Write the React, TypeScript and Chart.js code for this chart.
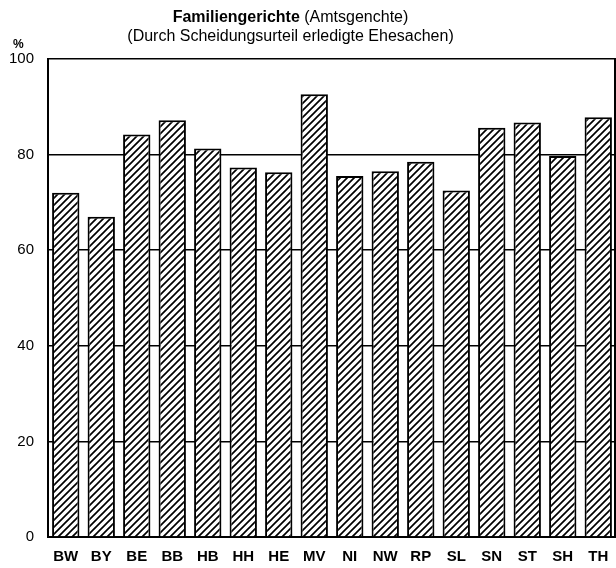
import React, { useEffect, useRef } from "react";
import { Chart, registerables } from "chart.js";

Chart.register(...registerables);

const categories = ["BW", "BY", "BE", "BB", "HB", "HH", "HE", "MV", "NI", "NW", "RP", "SL", "SN", "ST", "SH", "TH"];
const values = [72, 67, 84.2, 87.2, 81.3, 77.3, 76.3, 92.6, 75.5, 76.5, 78.5, 72.5, 85.6, 86.7, 79.7, 87.8];
const yTicks = [0, 20, 40, 60, 80, 100];
const titleBold = "Familiengerichte";
const titleRest = " (Amtsgenchte)";
const subtitle = "(Durch Scheidungsurteil erledigte Ehesachen)";
const unitLabel = "%";

const FONT = "'Liberation Sans', Arial, Helvetica, sans-serif";

function makeHatch(): CanvasPattern | string {
  const s = 7;
  const c = document.createElement("canvas");
  c.width = s;
  c.height = s;
  const g = c.getContext("2d");
  if (!g) return "#fff";
  g.fillStyle = "#fff";
  g.fillRect(0, 0, s, s);
  g.strokeStyle = "#000";
  g.lineWidth = 1.7;
  g.beginPath();
  g.moveTo(-1, s + 1);
  g.lineTo(s + 1, -1);
  g.moveTo(-1, 1);
  g.lineTo(1, -1);
  g.moveTo(s - 1, s + 1);
  g.lineTo(s + 1, s - 1);
  g.stroke();
  const p = g.createPattern(c, "repeat");
  return p || "#fff";
}

const frameRight = {
  id: "frameRight",
  beforeDatasetsDraw(chart: any) {
    const { ctx, chartArea } = chart;
    ctx.save();
    ctx.strokeStyle = "#000";
    ctx.lineWidth = 2;
    ctx.beginPath();
    ctx.moveTo(chartArea.right - 1, chartArea.top);
    ctx.lineTo(chartArea.right - 1, chartArea.bottom);
    ctx.stroke();
    ctx.restore();
  },
};

export default function App() {
  const ref = useRef<HTMLCanvasElement | null>(null);

  useEffect(() => {
    if (!ref.current) return;
    const chart = new Chart(ref.current, {
      type: "bar",
      data: {
        labels: categories,
        datasets: [
          {
            data: values,
            backgroundColor: makeHatch() as any,
            borderColor: "#000",
            borderWidth: 2,
            barPercentage: 0.77,
            categoryPercentage: 1,
          },
        ],
      },
      options: {
        responsive: false,
        animation: false,
        devicePixelRatio: 1,
        layout: { padding: { top: 59, left: 0, right: 0, bottom: 0 } },
        plugins: {
          legend: { display: false },
          tooltip: { enabled: false },
          title: { display: false },
        },
        scales: {
          x: {
            grid: { display: false },
            border: { display: true, color: "#000", width: 2 },
            ticks: {
              color: "#000",
              font: { family: FONT, size: 15, weight: "bold" },
              padding: 3,
              maxRotation: 0,
              autoSkip: false,
            },
            afterFit(scale: any) {
              scale.height = 31;
            },
          },
          y: {
            min: 0,
            max: 100,
            afterBuildTicks(scale: any) {
              scale.ticks = yTicks.map((v) => ({ value: v }));
            },
            grid: { color: "#000", lineWidth: 1.5, drawTicks: false },
            border: { display: true, color: "#000", width: 2 },
            ticks: {
              color: "#000",
              font: { family: FONT, size: 15 },
              padding: 14,
            },
            afterFit(scale: any) {
              scale.width = 48;
            },
          },
        },
      },
      plugins: [frameRight],
    });
    return () => chart.destroy();
  }, []);

  return (
    <div style={{ position: "absolute", left: 0, top: 0, width: 616, height: 568, background: "#fff", fontFamily: FONT, color: "#000" }}>
      <canvas ref={ref} width={616} height={568} style={{ position: "absolute", left: 0, top: 0 }} />
      <div style={{ position: "absolute", left: 0, width: 581, top: 8, textAlign: "center", fontSize: 16, lineHeight: "18px", whiteSpace: "nowrap" }}>
        <b>{titleBold}</b>
        {titleRest}
      </div>
      <div style={{ position: "absolute", left: 0, width: 581, top: 27, textAlign: "center", fontSize: 16, lineHeight: "18px", whiteSpace: "nowrap" }}>
        {subtitle}
      </div>
      <div style={{ position: "absolute", left: 13, top: 37, fontSize: 12, fontWeight: "bold", lineHeight: "14px" }}>{unitLabel}</div>
    </div>
  );
}
